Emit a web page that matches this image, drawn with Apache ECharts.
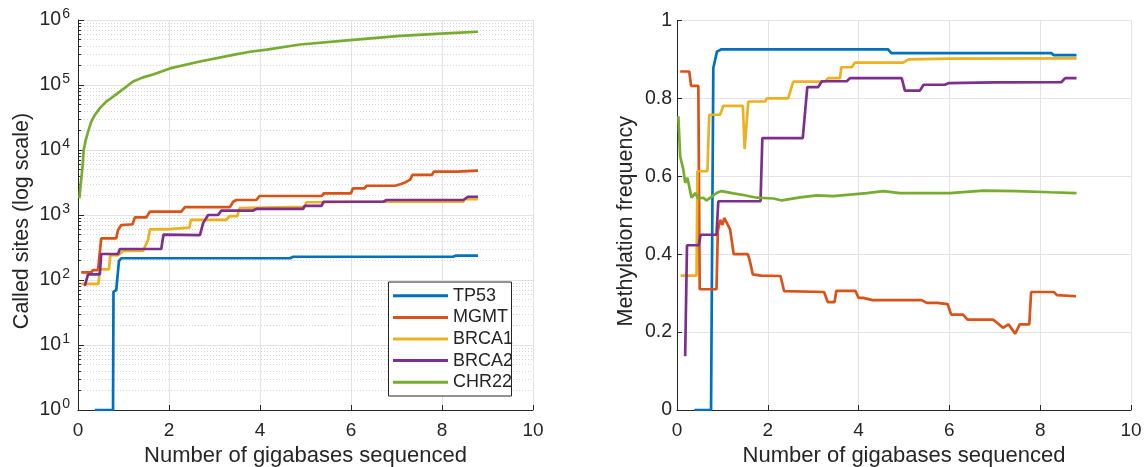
<!DOCTYPE html>
<html><head><meta charset="utf-8">
<script src="https://cdn.jsdelivr.net/npm/echarts@6/dist/echarts.min.js"></script>
<style>html,body{margin:0;padding:0;background:#fff}#c{width:1145px;height:467px}</style>
</head><body><div id="c"></div>
<script>
const seriesNames = ['TP53','MGMT','BRCA1','BRCA2','CHR22'];
const colors = ['#0072BD','#D95319','#EDB120','#7E2F8E','#77AC30'];
const xTicks = [0,2,4,6,8,10];
const yLogTicks = [1,10,100,1000,10000,100000,1000000];
const yLinTicks = [0,0.2,0.4,0.6,0.8,1];

// Left panel: called sites (log scale)
const sitesTP53 = [[0.37,1],[0.77,1],[0.78,66],[0.84,70],[0.9,195],[0.95,216],[4.66,216],[4.73,228],[8.24,228],[8.3,237],[8.79,237]];
const sitesMGMT = [[0.07,131],[0.29,131],[0.33,142],[0.44,142],[0.51,437],[0.84,437],[0.88,590],[0.95,700],[1.2,720],[1.25,920],[1.5,920],[1.58,1125],[2.27,1125],[2.35,1320],[3.34,1320],[3.41,1600],[3.48,1700],[3.92,1700],[3.99,1960],[5.36,1960],[5.4,2150],[6.0,2150],[6.04,2570],[6.3,2570],[6.34,2820],[6.97,2820],[7.1,3000],[7.2,3200],[7.3,3500],[7.35,4150],[7.78,4150],[7.82,4650],[8.33,4650],[8.36,4800],[8.79,4800]];
const sitesBRCA1 = [[0.07,87],[0.45,87],[0.48,146],[0.68,146],[0.71,242],[0.88,242],[0.92,258],[1.0,280],[1.43,280],[1.47,300],[1.54,412],[1.58,600],[1.94,600],[1.98,640],[2.45,640],[2.48,840],[3.26,840],[3.33,960],[3.5,960],[3.55,1280],[4.98,1330],[5.02,1570],[6.5,1600],[8.47,1600],[8.5,1760],[8.79,1760]];
const sitesBRCA2 = [[0.15,81],[0.22,122],[0.48,122],[0.51,251],[0.88,251],[0.92,300],[1.83,300],[1.88,500],[2.68,490],[2.75,750],[2.86,1000],[3.08,1000],[3.15,1170],[3.85,1170],[3.92,1240],[4.95,1240],[4.98,1380],[5.35,1380],[5.4,1600],[6.71,1600],[6.78,1700],[8.47,1700],[8.57,1910],[8.79,1910]];
const sitesCHR22 = [[0.03,1810],[0.06,3000],[0.1,5530],[0.125,10000],[0.17,14200],[0.22,19000],[0.29,27000],[0.37,34600],[0.48,44000],[0.62,55500],[0.77,66000],[0.92,79000],[1.06,94000],[1.21,113000],[1.43,131000],[1.65,145000],[2.02,180000],[2.68,230000],[3.41,290000],[3.78,325000],[4.15,350000],[4.88,420000],[5.98,490000],[7.08,570000],[8.18,630000],[8.79,660000]];

// Right panel: methylation frequency
const methTP53 = [[0.38,0],[0.75,0],[0.8,0.878],[0.84,0.88],[0.88,0.92],[0.98,0.926],[4.65,0.926],[4.72,0.916],[8.25,0.916],[8.3,0.911],[8.8,0.911]];
const methMGMT = [[0.07,0.869],[0.27,0.869],[0.31,0.832],[0.47,0.832],[0.5,0.31],[0.87,0.31],[0.9,0.46],[0.95,0.488],[1.0,0.475],[1.04,0.493],[1.1,0.48],[1.17,0.463],[1.25,0.40],[1.56,0.40],[1.6,0.385],[1.67,0.348],[1.85,0.345],[2.28,0.344],[2.36,0.305],[3.24,0.303],[3.32,0.277],[3.47,0.277],[3.51,0.306],[3.93,0.306],[4.0,0.288],[4.1,0.288],[4.13,0.286],[4.31,0.282],[5.39,0.282],[5.5,0.275],[5.73,0.275],[5.77,0.272],[5.96,0.272],[6.04,0.245],[6.3,0.245],[6.4,0.232],[6.96,0.232],[7.03,0.226],[7.18,0.211],[7.3,0.22],[7.45,0.196],[7.55,0.22],[7.76,0.22],[7.8,0.303],[8.3,0.303],[8.37,0.295],[8.79,0.292]];
const methBRCA1 = [[0.08,0.345],[0.43,0.345],[0.45,0.613],[0.67,0.613],[0.71,0.758],[0.95,0.758],[1.02,0.781],[1.45,0.781],[1.49,0.67],[1.53,0.67],[1.57,0.792],[1.94,0.792],[1.98,0.8],[2.45,0.8],[2.56,0.843],[3.26,0.843],[3.33,0.852],[3.59,0.852],[3.62,0.88],[3.85,0.88],[3.92,0.892],[4.98,0.892],[5.1,0.9],[6.0,0.902],[8.8,0.903]];
const methBRCA2 = [[0.18,0.138],[0.22,0.423],[0.48,0.423],[0.52,0.45],[0.87,0.45],[0.91,0.536],[1.84,0.536],[1.88,0.698],[2.77,0.698],[2.8,0.737],[2.87,0.829],[3.11,0.829],[3.19,0.844],[3.74,0.844],[3.81,0.852],[4.95,0.852],[5.02,0.82],[5.35,0.82],[5.43,0.835],[5.9,0.835],[5.98,0.839],[7.0,0.841],[8.47,0.842],[8.55,0.852],[8.8,0.852]];
const methCHR22 = [[0.03,0.754],[0.07,0.651],[0.14,0.617],[0.18,0.583],[0.23,0.596],[0.27,0.592],[0.32,0.545],[0.4,0.557],[0.47,0.543],[0.58,0.545],[0.65,0.538],[0.76,0.547],[0.87,0.557],[0.98,0.562],[1.24,0.556],[1.46,0.552],[1.76,0.545],[2.12,0.543],[2.31,0.538],[2.71,0.546],[3.08,0.551],[3.44,0.549],[3.81,0.553],[4.18,0.557],[4.55,0.562],[4.91,0.557],[5.28,0.557],[6.01,0.557],[6.75,0.563],[7.48,0.562],[8.22,0.559],[8.8,0.557]];

const leftData = [sitesTP53, sitesMGMT, sitesBRCA1, sitesBRCA2, sitesCHR22];
const rightData = [methTP53, methMGMT, methBRCA1, methBRCA2, methCHR22];

const FONT = 'Liberation Sans';
const TXT = '#262626';
const GRIDC = '#e3e3e3';

// minor log grid values (2..9 x 10^k)
const minorVals = [];
for (let k = 0; k < 6; k++) for (let m = 2; m <= 9; m++) minorVals.push(m * Math.pow(10, k));

const chart = echarts.init(document.getElementById('c'), null, {renderer: 'canvas'});

function xAxisCfg(gi) {
  return {
    type: 'value', gridIndex: gi, min: 0, max: 10, interval: 2,
    name: 'Number of gigabases sequenced', nameLocation: 'middle', nameGap: 35,
    nameTextStyle: {fontFamily: FONT, fontSize: 22, color: TXT},
    axisLine: {show: true, onZero: false, lineStyle: {color: TXT, width: 1}},
    axisTick: {show: true, inside: true, length: 5, lineStyle: {color: TXT}},
    axisLabel: {fontFamily: FONT, fontSize: 19, color: TXT, margin: 11},
    splitLine: {show: true, lineStyle: {color: GRIDC, width: 1}}
  };
}

const series = [];
// minor grid lines & minor ticks for log axis (drawn first, underneath)
series.push({
  type: 'line', xAxisIndex: 0, yAxisIndex: 0, data: [], silent: true, animation: false, z: 1,
  markLine: {
    silent: true, symbol: 'none', label: {show: false}, animation: false, z: 1,
    lineStyle: {color: '#d6d6d6', type: [1, 2], width: 1},
    data: minorVals.map(v => ({yAxis: v}))
  }
});
series.push({
  type: 'line', xAxisIndex: 0, yAxisIndex: 0, data: [], silent: true, animation: false, z: 1,
  markLine: {
    silent: true, symbol: 'none', label: {show: false}, animation: false, z: 1,
    lineStyle: {color: TXT, type: 'solid', width: 1},
    data: minorVals.map(v => [{coord: [0, v]}, {coord: [0.065, v]}])
  }
});
seriesNames.forEach((n, i) => {
  series.push({
    name: n, type: 'line', xAxisIndex: 0, yAxisIndex: 0, data: leftData[i],
    showSymbol: false, symbol: 'none', lineStyle: {width: 2.7, color: colors[i]},
    itemStyle: {color: colors[i]}, z: 3 + i, animation: false
  });
});
seriesNames.forEach((n, i) => {
  series.push({
    name: n, type: 'line', xAxisIndex: 1, yAxisIndex: 1, data: rightData[i],
    showSymbol: false, symbol: 'none', lineStyle: {width: 2.7, color: colors[i]},
    itemStyle: {color: colors[i]}, z: 3 + i, animation: false
  });
});

const option = {
  backgroundColor: '#fff',
  animation: false,
  grid: [
    {left: 78, right: 612, top: 20, bottom: 57, containLabel: false, outerBoundsMode: 'none'},
    {left: 677, right: 14, top: 20.5, bottom: 57, containLabel: false, outerBoundsMode: 'none'}
  ],
  graphic: [{
    type: 'rect', left: 388, top: 281.5, z: 15,
    shape: {x: 0, y: 0, width: 123, height: 114},
    style: {fill: '#fff', stroke: TXT, lineWidth: 1}
  }],
  legend: {
    show: true, orient: 'vertical', left: 393, top: 285,
    data: seriesNames,
    icon: 'rect', itemWidth: 55, itemHeight: 3, itemGap: 0,
    padding: 0,
    textStyle: {fontFamily: FONT, fontSize: 18, color: TXT, lineHeight: 21.6},
    selectedMode: false, z: 20
  },
  xAxis: [xAxisCfg(0), xAxisCfg(1)],
  yAxis: [
    {
      type: 'log', logBase: 10, gridIndex: 0, min: 1, max: 1000000,
      name: 'Called sites (log scale)', nameLocation: 'middle', nameGap: 45, nameRotate: 90,
      nameTextStyle: {fontFamily: FONT, fontSize: 21.5, color: TXT, padding: [0, 12, 0, 0]},
      axisLine: {show: true, lineStyle: {color: TXT, width: 1}},
      axisTick: {show: true, inside: true, length: 6, lineStyle: {color: TXT}},
      axisLabel: {
        fontFamily: FONT, color: TXT, margin: 8,
        formatter: v => '{b|10}{s|' + Math.round(Math.log10(v)) + '}',
        rich: {
          b: {fontFamily: FONT, fontSize: 19.5, color: TXT},
          s: {fontFamily: FONT, fontSize: 14, color: TXT, padding: [0, 0, 11, 1]}
        }
      },
      splitLine: {show: true, lineStyle: {color: GRIDC, width: 1}}
    },
    {
      type: 'value', gridIndex: 1, min: 0, max: 1, interval: 0.2,
      name: 'Methylation frequency', nameLocation: 'middle', nameGap: 40, nameRotate: 90,
      nameTextStyle: {fontFamily: FONT, fontSize: 21.5, color: TXT, padding: [0, 12, 0, 0]},
      axisLine: {show: true, lineStyle: {color: TXT, width: 1}},
      axisTick: {show: true, inside: true, length: 5, lineStyle: {color: TXT}},
      axisLabel: {fontFamily: FONT, fontSize: 19.5, color: TXT, margin: 5},
      splitLine: {show: true, lineStyle: {color: GRIDC, width: 1}}
    }
  ],
  series: series
};
chart.setOption(option);
</script>
</body></html>
